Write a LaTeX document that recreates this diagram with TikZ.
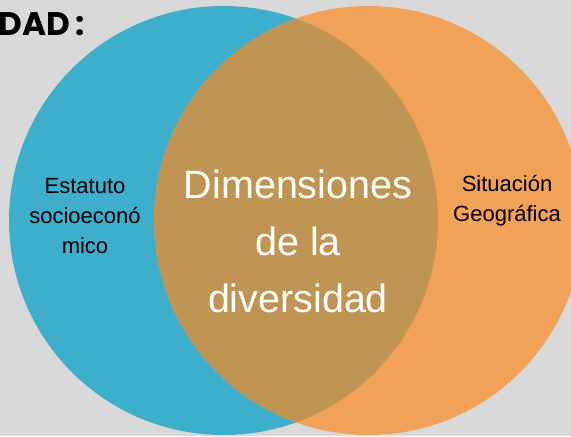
\documentclass[tikz,border=0pt]{standalone}
\usepackage{fontspec}
\setmainfont{Liberation Sans}
\newfontfamily\headfont{Poppins}
\usepackage{tikz}
\usetikzlibrary{positioning}
\definecolor{bgGray}{HTML}{D9D9D9}
\definecolor{socBlue}{HTML}{3EAECD}
\definecolor{geoOrange}{HTML}{F2A159}
\definecolor{mixBrown}{HTML}{C09554}
\tikzstyle{set}=[circle, minimum size=321.75pt, inner sep=0pt]
\tikzstyle{small}=[align=center, text=black, font=\fontsize{16.5}{22.5}\selectfont]
\tikzstyle{big}=[align=center, text=white, font=\fontsize{29.6}{42.75}\selectfont]

\begin{document}
\begin{tikzpicture}[x=0.75pt, y=-0.75pt]
		\fill[bgGray] (0,0) rectangle (571,436);
		\useasboundingbox (0,0) rectangle (571,436);
		\node[set, fill=socBlue] (soc) at (223.5,220.5) {};
		\node[set, fill=geoOrange] (geo) at (368.5,220.5) {};
		\begin{scope}
			\clip (soc.center) circle (160.875pt);
			\fill[mixBrown] (geo.center) circle (160.875pt);
		\end{scope}
		\node[anchor=base east, inner sep=0pt, font=\headfont\bfseries\fontsize{24.5}{28}\selectfont] (head) at (85,35) {DAD\,:};
		\node[small] (estatuto) at (85,216) {Estatuto\\socioecon\'o\\mico};
		\node[small] (situacion) at (507,201) {Situaci\'on\\Geogr\'afica};
		\node[big] (dim) at (298,241) {Dimensiones\\de la\\diversidad};
	\end{tikzpicture}
\end{document}
